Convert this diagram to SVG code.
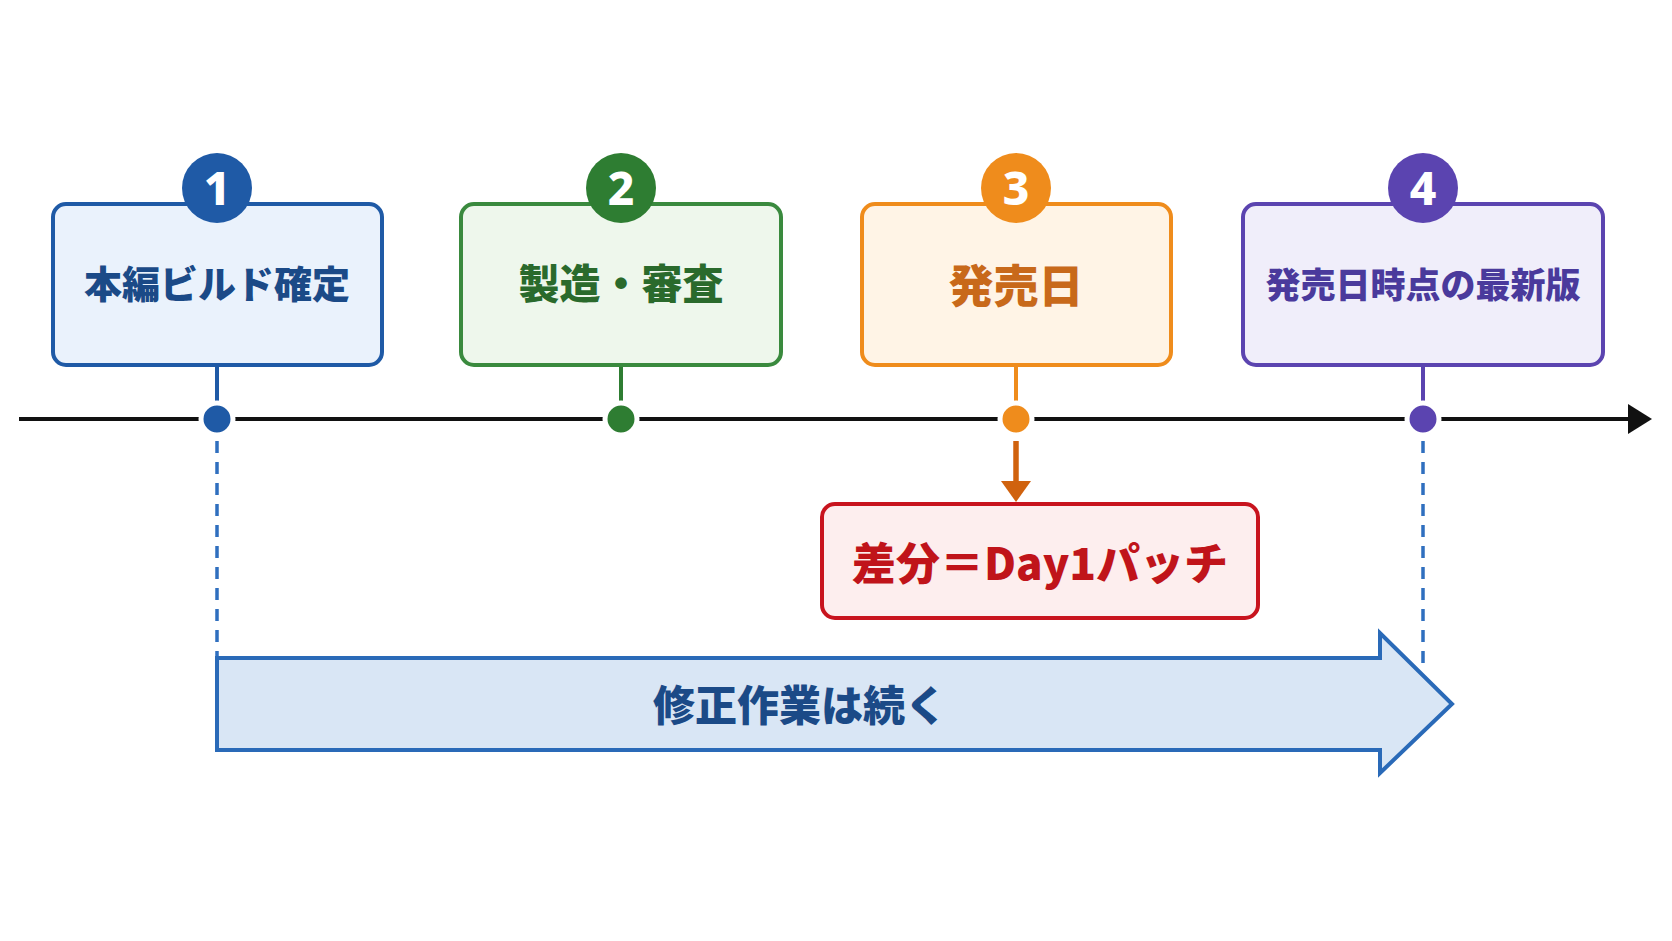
<svg xmlns="http://www.w3.org/2000/svg" width="1672" height="941" viewBox="0 0 1672 941">
<defs>
<style>
.lbl{font-family:"Noto Sans CJK JP","Noto Sans",sans-serif;font-weight:900;text-anchor:middle;dominant-baseline:central}
.num{font-family:"Noto Sans","Liberation Sans",sans-serif;font-weight:800;font-size:46px;fill:#ffffff;text-anchor:middle;dominant-baseline:central}
.box{stroke-width:4}
.dot{stroke:#ffffff;stroke-width:5}
.stem{stroke-width:4;fill:none}
.dash{stroke:#2f6fbf;stroke-width:3.5;stroke-dasharray:12 9;fill:none}
</style>
</defs>
<rect width="1672" height="941" fill="#ffffff"/>

<g id="connectors">
<line x1="19" y1="419" x2="1632" y2="419" stroke="#111111" stroke-width="4"/>
<polygon points="1628,404 1652,419 1628,434" fill="#111111"/>
<line class="stem" x1="217" y1="365" x2="217" y2="419" stroke="#1f5aa6"/>
<line class="stem" x1="621" y1="365" x2="621" y2="419" stroke="#2e7d32"/>
<line class="stem" x1="1016" y1="365" x2="1016" y2="419" stroke="#ef8c1c"/>
<line class="stem" x1="1423" y1="365" x2="1423" y2="419" stroke="#5b44b0"/>
<line class="dash" x1="217" y1="441" x2="217" y2="658"/>
<line class="dash" x1="1423" y1="441" x2="1423" y2="672"/>
<line x1="1016" y1="441" x2="1016" y2="484" stroke="#d0620e" stroke-width="5.5"/>
<polygon points="1001,481 1031,481 1016,502" fill="#d0620e"/>
</g>

<g id="dots">
<circle class="dot" cx="217" cy="419" r="16" fill="#1f5aa6"/>
<circle class="dot" cx="621" cy="419" r="16" fill="#2e7d32"/>
<circle class="dot" cx="1016" cy="419" r="16" fill="#ef8c1c"/>
<circle class="dot" cx="1423" cy="419" r="16" fill="#5b44b0"/>
</g>

<g id="node-1">
<rect class="box" x="53" y="204" width="329" height="161" rx="13" fill="#eaf2fc" stroke="#1f5aa6"/>
<circle cx="217" cy="188" r="35" fill="#1f5aa6"/>
<text class="num" x="217" y="187">1</text>
<text class="lbl" x="217" y="281" font-size="38" fill="#1b4a87">本編ビルド確定</text>
</g>

<g id="node-2">
<rect class="box" x="461" y="204" width="320" height="161" rx="13" fill="#eef7ec" stroke="#3a8a3e"/>
<circle cx="621" cy="188" r="35" fill="#2e7d32"/>
<text class="num" x="621" y="187">2</text>
<text class="lbl" x="621" y="281" font-size="41" fill="#2a6a2c">製造・審査</text>
</g>

<g id="node-3">
<rect class="box" x="862" y="204" width="309" height="161" rx="13" fill="#fff4e6" stroke="#ef8c1c"/>
<circle cx="1016" cy="188" r="35" fill="#ef8c1c"/>
<text class="num" x="1016" y="187">3</text>
<text class="lbl" x="1016" y="283" font-size="45" fill="#c8691a">発売日</text>
</g>

<g id="node-4">
<rect class="box" x="1243" y="204" width="360" height="161" rx="13" fill="#f0eefa" stroke="#5b44b0"/>
<circle cx="1423" cy="188" r="35" fill="#5b44b0"/>
<text class="num" x="1423" y="187">4</text>
<text class="lbl" x="1423" y="282" font-size="35" fill="#4a3a9c">発売日時点の最新版</text>
</g>

<g id="node-patch">
<rect class="box" x="822" y="504" width="436" height="114" rx="13" fill="#fdeeee" stroke="#c8141e"/>
<text class="lbl" x="1040" y="561" font-size="44" fill="#c0141a">差分＝Day1パッチ</text>
</g>

<g id="node-arrow">
<polygon points="217,658 1380,658 1380,633 1452,704 1380,773 1380,750 217,750" fill="#d9e6f5" stroke="#2a6ab8" stroke-width="4" stroke-linejoin="miter"/>
<text class="lbl" x="800" y="702" font-size="42" fill="#1b4a87">修正作業は続く</text>
</g>
</svg>
